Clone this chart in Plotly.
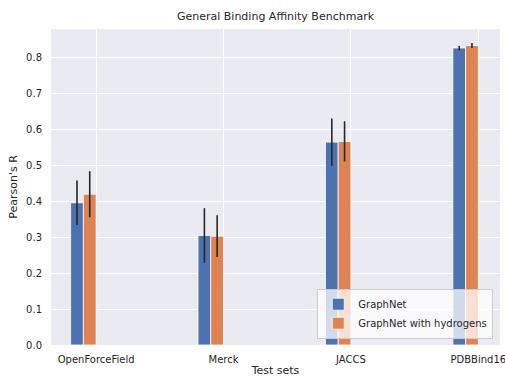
import plotly.graph_objects as go

categories = ["OpenForceField", "Merck", "JACCS", "PDBBind16"]
graphnet = [0.396, 0.305, 0.565, 0.827]
graphnet_err = [0.062, 0.076, 0.066, 0.006]
graphnet_h = [0.420, 0.303, 0.567, 0.834]
graphnet_h_err = [0.064, 0.058, 0.056, 0.007]
y_ticks = [0.0, 0.1, 0.2, 0.3, 0.4, 0.5, 0.6, 0.7, 0.8]

pos = list(range(len(categories)))
font = "DejaVu Sans"
txt = "#262626"

fig = go.Figure()
fig.add_trace(go.Bar(
    x=pos, y=graphnet, name="GraphNet", width=0.1, offset=-0.2,
    marker=dict(color="#4C72B0", line=dict(color="white", width=0.8)),
    error_y=dict(type="data", array=graphnet_err, color="#262626", thickness=1.6, width=0),
))
fig.add_trace(go.Bar(
    x=pos, y=graphnet_h, name="GraphNet with hydrogens", width=0.1, offset=-0.1,
    marker=dict(color="#DD8452", line=dict(color="white", width=0.8)),
    error_y=dict(type="data", array=graphnet_h_err, color="#262626", thickness=1.6, width=0),
))

fig.update_layout(
    width=505, height=377,
    margin=dict(l=51, r=5, t=29, b=32, autoexpand=False),
    paper_bgcolor="white", plot_bgcolor="#EAEAF2",
    font=dict(family=font, size=10, color=txt),
    title=dict(text="General Binding Affinity Benchmark", x=(51 + 500) / 2 / 505, xanchor="center",
               y=1 - 16 / 377, yanchor="middle", font=dict(size=11, color=txt)),
    barmode="overlay",
    legend=dict(x=0.985, y=0.02, xanchor="right", yanchor="bottom",
                bgcolor="rgba(255,255,255,0.75)", bordercolor="#CCCCCC", borderwidth=1,
                font=dict(size=10, color=txt), tracegroupgap=0, itemwidth=30),
    showlegend=True,
)
fig.update_xaxes(
    range=[-0.354, 3.17], tickvals=pos, ticktext=categories,
    showgrid=True, gridcolor="white", gridwidth=1, zeroline=False,
    ticks="", ticklabelstandoff=7, showline=False, automargin=False,
    ticklabeloverflow="allow",
    title=dict(text="Test sets", standoff=9, font=dict(size=11, color=txt)),
)
fig.update_yaxes(
    range=[0, 0.88], tickvals=y_ticks, ticktext=[f"{v:.1f}" for v in y_ticks],
    showgrid=True, gridcolor="white", gridwidth=1, zeroline=False,
    ticks="", ticklabelstandoff=8, showline=False, automargin=False,
    title=dict(text="Pearson's R", standoff=6, font=dict(size=11, color=txt)),
)

fig.write_html("out.html")
